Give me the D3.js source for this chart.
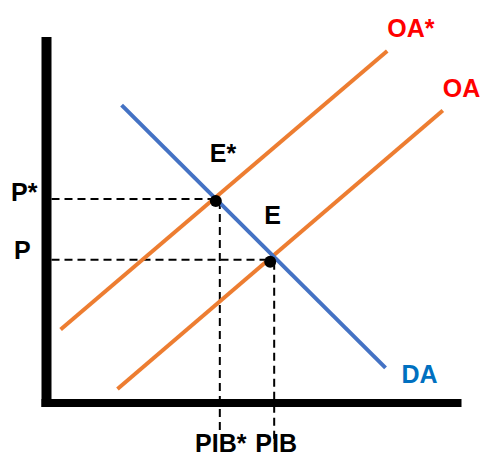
<!DOCTYPE html>
<html>
<head>
<meta charset="utf-8">
<script src="https://cdn.jsdelivr.net/npm/d3@7"></script>
<style>
  body { margin: 0; background: #fff; }
  text { font-family: "Liberation Sans", Arial, sans-serif; font-weight: bold; }
</style>
</head>
<body>
<div class="chart"></div>
<script>
// curves in chart units (x = PIB, y = P)
const supplyNames = ["OA*", "OA"];
const supplyStart = [[3.4, 20.1], [17.1, 3.8]];
const supplyEnd = [[82.1, 96.2], [95.5, 79.9]];
const demandName = "DA";
const demandLine = [[18.1, 81.4], [81.7, 9.6]];
const eqNames = ["E*", "E"];
const eqPoints = [[40.8, 55.2], [53.9, 38.6]];
const priceLabels = ["P*", "P"];
const pibLabels = ["PIB*", "PIB"];

const width = 484, height = 458;

const svg = d3.select(".chart")
  .append("svg")
  .attr("width", width)
  .attr("height", height);

const x = d3.scaleLinear().domain([0, 100]).range([46.5, 461.5]);
const y = d3.scaleLinear().domain([0, 100]).range([403, 37]);

const line = d3.line().x(d => x(d[0])).y(d => y(d[1]));

// dashed guides
eqPoints.forEach((p, i) => {
  svg.append("line")
    .attr("x1", x(0) + 5).attr("x2", x(p[0]))
    .attr("y1", y(p[1]) - 2).attr("y2", y(p[1]) - 2)
    .attr("stroke", "black").attr("stroke-width", 2)
    .attr("stroke-dasharray", "8,5");
  svg.append("line")
    .attr("x1", x(p[0]) + 4).attr("x2", x(p[0]) + 4)
    .attr("y1", y(p[1])).attr("y2", i === 0 ? 432 : 444)
    .attr("stroke", "black").attr("stroke-width", 2)
    .attr("stroke-dasharray", "8,5");
});

// supply curves
supplyStart.forEach((s, i) => {
  svg.append("path")
    .attr("d", line([s, supplyEnd[i]]))
    .attr("stroke", "#ED7D31")
    .attr("stroke-width", 4)
    .attr("fill", "none");
});

// demand curve
svg.append("path")
  .attr("d", line(demandLine))
  .attr("stroke", "#4472C4")
  .attr("stroke-width", 4)
  .attr("fill", "none");

// axes
svg.append("line")
  .attr("x1", x(0)).attr("x2", x(0))
  .attr("y1", y(100)).attr("y2", y(0) + 4)
  .attr("stroke", "black").attr("stroke-width", 10);
svg.append("line")
  .attr("x1", x(0) - 5).attr("x2", x(100))
  .attr("y1", y(0)).attr("y2", y(0))
  .attr("stroke", "black").attr("stroke-width", 8);

// equilibrium points
svg.selectAll(".eq")
  .data(eqPoints)
  .enter()
  .append("circle")
  .attr("cx", d => x(d[0]))
  .attr("cy", d => y(d[1]))
  .attr("r", 6)
  .attr("fill", "black");

const fs = 25;
// labels
svg.selectAll(".eqlab")
  .data(eqNames)
  .enter()
  .append("text")
  .attr("x", (d, i) => x(eqPoints[i][0]) - 6)
  .attr("y", (d, i) => y(eqPoints[i][1]) - (i === 0 ? 39 : 38))
  .attr("font-size", fs)
  .text(d => d);

svg.selectAll(".plab")
  .data(priceLabels)
  .enter()
  .append("text")
  .attr("x", (d, i) => i === 0 ? 11 : 14)
  .attr("y", (d, i) => y(eqPoints[i][1]) + (i === 0 ? 0 : -3))
  .attr("font-size", fs)
  .text(d => d);

svg.selectAll(".qlab")
  .data(pibLabels)
  .enter()
  .append("text")
  .attr("x", (d, i) => x(eqPoints[i][0]) + (i === 0 ? 5 : 6))
  .attr("y", 452)
  .attr("text-anchor", "middle")
  .attr("font-size", fs)
  .text(d => d);

svg.selectAll(".slab")
  .data(supplyNames)
  .enter()
  .append("text")
  .attr("x", (d, i) => x(supplyEnd[i][0]))
  .attr("y", (d, i) => y(supplyEnd[i][1]) - 14)
  .attr("fill", "#FF0000")
  .attr("font-size", fs)
  .text(d => d);

svg.append("text")
  .attr("x", x(demandLine[1][0]) + 16)
  .attr("y", y(demandLine[1][1]) + 15)
  .attr("fill", "#0070C0")
  .attr("font-size", fs)
  .text(demandName);
</script>
</body>
</html>
